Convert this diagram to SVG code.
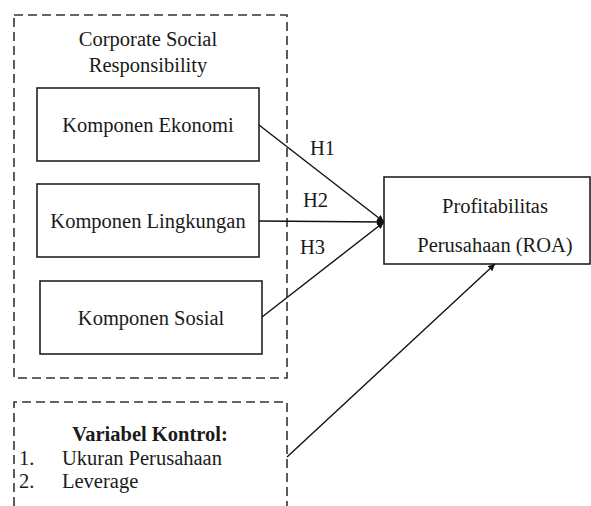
<svg xmlns="http://www.w3.org/2000/svg" width="591" height="506" viewBox="0 0 591 506">
<style>
.t{font-family:'Liberation Serif','Times New Roman',serif;font-size:20.5px;fill:#1a1a1a}
.box{fill:none;stroke:#222;stroke-width:1.6}
.dash{fill:none;stroke:#333;stroke-width:1.6;stroke-dasharray:9 5}
.conn{stroke:#111;stroke-width:1.4;fill:none}
</style>
<defs>
<marker id="ah" viewBox="0 0 10 10" refX="10" refY="5" markerWidth="7" markerHeight="7" markerUnits="userSpaceOnUse" orient="auto">
<path d="M0,0 L10,5 L0,10 z" fill="#111"/>
</marker>
</defs>
<rect width="591" height="506" fill="#fff"/>
<g font-family="Liberation Serif, Times New Roman, serif" font-size="20.5" fill="#1a1a1a">
<g id="csr-group">
<rect class="dash" x="14" y="15" width="273" height="363"/>
<text class="t" x="148" y="46" text-anchor="middle">Corporate Social</text>
<text class="t" x="148" y="72" text-anchor="middle">Responsibility</text>
</g>
<g id="kontrol">
<path class="dash" d="M14,506 L14,402 L287,402 L287,506"/>
<text class="t" x="150" y="441" text-anchor="middle" font-weight="bold">Variabel Kontrol:</text>
<text class="t" x="19" y="465">1.</text>
<text class="t" x="62" y="465">Ukuran Perusahaan</text>
<text class="t" x="19" y="488">2.</text>
<text class="t" x="62" y="488">Leverage</text>
</g>
<g id="ekonomi">
<rect class="box" x="37" y="88" width="222" height="73"/>
<text class="t" x="148" y="132" text-anchor="middle">Komponen Ekonomi</text>
</g>
<g id="lingkungan">
<rect class="box" x="37" y="184" width="222" height="73"/>
<text class="t" x="148" y="228" text-anchor="middle">Komponen Lingkungan</text>
</g>
<g id="sosial">
<rect class="box" x="40" y="281" width="222" height="73"/>
<text class="t" x="151" y="325" text-anchor="middle">Komponen Sosial</text>
</g>
<g id="roa">
<rect class="box" x="384" y="177" width="206" height="87"/>
<text class="t" x="495" y="213" text-anchor="middle">Profitabilitas</text>
<text class="t" x="495" y="252" text-anchor="middle">Perusahaan (ROA)</text>
</g>
<g id="connectors">
<line class="conn" x1="259" y1="125" x2="384" y2="222" marker-end="url(#ah)"/>
<line class="conn" x1="259" y1="221" x2="384" y2="222" marker-end="url(#ah)"/>
<line class="conn" x1="262" y1="317" x2="384" y2="222" marker-end="url(#ah)"/>
<line class="conn" x1="287" y1="457" x2="495" y2="264" marker-end="url(#ah)"/>
<text class="t" x="310" y="155">H1</text>
<text class="t" x="303" y="207">H2</text>
<text class="t" x="300" y="254">H3</text>
</g>
</g>
</svg>
